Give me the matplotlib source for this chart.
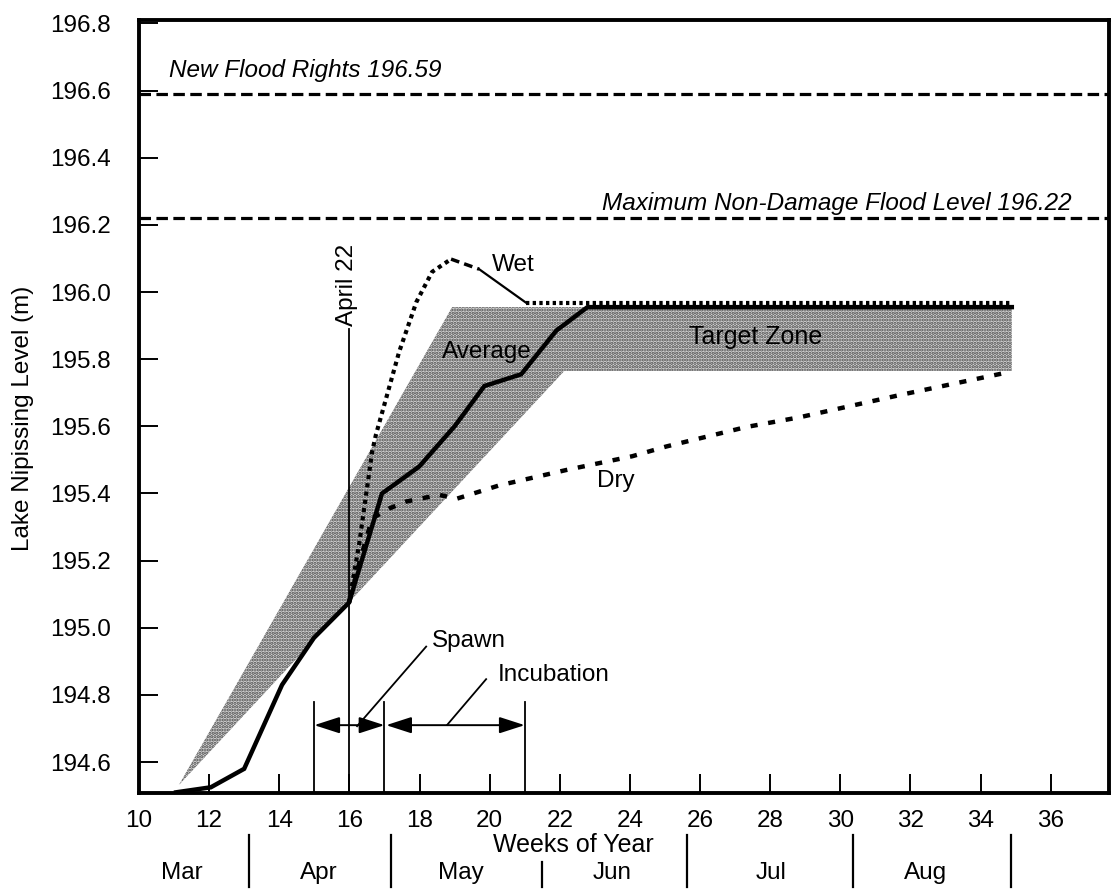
import matplotlib.pyplot as plt
import matplotlib.transforms as mtransforms

plt.rcParams['font.family'] = ['Liberation Sans', 'DejaVu Sans']
plt.rcParams['hatch.linewidth'] = 1.6

# --- data ---
avg_weeks = [11.06, 12.05, 13.0, 14.08, 14.99, 15.99, 16.93, 17.99, 19.0,
             19.85, 20.9, 21.9, 22.79, 34.89]
avg_level = [194.51, 194.525, 194.58, 194.83, 194.97, 195.075, 195.40, 195.48,
             195.60, 195.72, 195.755, 195.885, 195.955, 195.955]

wet_weeks = [15.99, 16.28, 16.65, 16.76, 17.42, 17.91, 18.36, 18.9, 19.7,
             21.04, 34.89]
wet_level = [195.075, 195.25, 195.525, 195.576, 195.822, 195.97, 196.06,
             196.098, 196.068, 195.968, 195.968]

dry_weeks = [15.99, 16.3, 16.65, 17.13, 17.62, 18.56, 19.05, 20.27, 22.19,
             24.07, 25.04, 27.32, 28.84, 31.69, 34.83]
dry_level = [195.075, 195.2, 195.326, 195.355, 195.376, 195.396, 195.384,
             195.424, 195.47, 195.511, 195.54, 195.598, 195.627, 195.693,
             195.762]

zone_weeks = [11.14, 18.93, 34.89, 34.89, 22.13]
zone_level = [194.532, 195.955, 195.955, 195.765, 195.765]

flood_rights = 196.59
max_nondamage = 196.22

april22_week = 16
spawn_weeks = (15, 17)
incubation_weeks = (17, 21)

week_ticks = list(range(10, 37, 2))
level_ticks = [194.6, 194.8, 195.0, 195.2, 195.4, 195.6, 195.8, 196.0,
               196.2, 196.4, 196.6, 196.8]

months = ['Mar', 'Apr', 'May', 'Jun', 'Jul', 'Aug']
month_label_weeks = [11.23, 15.14, 19.19, 23.48, 28.04, 32.43]
month_bounds = [13.14, 17.19, 21.5, 25.64, 30.35, 34.86]


fig = plt.figure(figsize=(11.17, 8.9), dpi=100)
ax = fig.add_axes([0.1244, 0.109, 0.8684, 0.8685])
ax.set_xlim(10, 37.66)
ax.set_ylim(194.508, 196.81)

# target zone
ax.fill(zone_weeks, zone_level, facecolor='#d6d6d6', edgecolor='#4a4a4a',
        hatch='.....', linewidth=0, zorder=1)

# flood levels
dash = (0, (3.6, 1.7))
ax.axhline(flood_rights, color='black', lw=2.3, ls=dash, zorder=2)
ax.axhline(max_nondamage, color='black', lw=2.3, ls=dash, zorder=2)

# dry
ax.plot(dry_weeks, dry_level, color='black', lw=3.2, ls=(0, (1.6, 2.4)),
        zorder=3)

# wet, drawn in pieces like the original
ax.plot(wet_weeks[:8], wet_level[:8], color='black', lw=3.0,
        ls=(0, (1.0, 1.0)), zorder=3)
ax.plot(wet_weeks[7:9], wet_level[7:9], color='black', lw=2.5,
        ls=(0, (2.5, 1.5)), zorder=3)
ax.plot(wet_weeks[8:10], wet_level[8:10], color='black', lw=1.6, zorder=3)
ax.plot(wet_weeks[9:], wet_level[9:], color='black', lw=3.0,
        ls=(0, (0.8, 0.8)), zorder=3)

# average
ax.plot(avg_weeks, avg_level, color='black', lw=3.2, solid_joinstyle='miter',
        zorder=4)

fs = 17.5

# April 22
ax.plot([april22_week, april22_week], [194.508, 195.89], color='black',
        lw=1.3, zorder=4)
ax.text(april22_week - 0.07, 195.9, 'April 22', rotation=90, ha='center',
        va='bottom', fontsize=fs)

# spawn / incubation markers
for wk in (spawn_weeks[0], spawn_weeks[1], incubation_weeks[1]):
    ax.plot([wk, wk], [194.508, 194.78], color='black', lw=1.3, zorder=4)
arrow = dict(arrowstyle='<|-|>,head_length=1.3,head_width=0.42',
             color='black', lw=1.4, shrinkA=0, shrinkB=0, mutation_scale=12)
ax.annotate('', xy=(spawn_weeks[0], 194.71), xytext=(spawn_weeks[1], 194.71),
            arrowprops=arrow)
ax.annotate('', xy=(incubation_weeks[0] + 0.05, 194.71),
            xytext=(incubation_weeks[1], 194.71), arrowprops=arrow)
ax.plot([18.19, 16.22], [194.944, 194.707], color='black', lw=1.3)
ax.plot([19.9, 18.79], [194.847, 194.711], color='black', lw=1.3)

ax.text(18.36, 194.96, 'Spawn', fontsize=fs, va='center', ha='left')
ax.text(20.22, 194.86, 'Incubation', fontsize=fs, va='center', ha='left')
ax.text(20.05, 196.08, 'Wet', fontsize=fs, va='center', ha='left')
ax.text(19.93, 195.82, 'Average', fontsize=fs, va='center', ha='center')
ax.text(27.58, 195.866, 'Target Zone', fontsize=18, va='center',
        ha='center')
ax.text(23.61, 195.437, 'Dry', fontsize=fs, va='center', ha='center')
ax.text(10.86, 196.66, 'New Flood Rights 196.59', fontsize=fs,
        style='italic', va='center', ha='left')
ax.text(36.6, 196.265, 'Maximum Non-Damage Flood Level 196.22', fontsize=fs,
        style='italic', va='center', ha='right')

# axes styling
for sp in ax.spines.values():
    sp.set_linewidth(2.8)
ax.set_xticks(week_ticks)
ax.set_xticklabels([str(w) for w in week_ticks])
ax.set_yticks(level_ticks)
ax.set_yticklabels(['%.1f' % v for v in level_ticks])
ax.tick_params(axis='both', direction='in', length=14, width=1.4,
               labelsize=fs)
ax.tick_params(axis='x', pad=12)
ax.tick_params(axis='y', pad=20)
ax.set_ylabel('Lake Nipissing Level (m)', fontsize=17.5)
ax.yaxis.set_label_coords(-0.108, 0.485)

fig.text(573 / 1117, 0.0506, 'Weeks of Year', fontsize=18, ha='center',
         va='center')

# month row under the axis
trans = mtransforms.blended_transform_factory(ax.transData, fig.transFigure)
for name, wk in zip(months, month_label_weeks):
    ax.text(wk, 0.019, name, transform=trans, fontsize=fs, ha='center',
            va='center')
for i, wk in enumerate(month_bounds):
    top = 0.031 if i == 2 else 0.062
    ax.plot([wk, wk], [0.003, top], transform=trans, color='black', lw=1.6,
            clip_on=False)

fig.savefig('out.png', dpi=100)
